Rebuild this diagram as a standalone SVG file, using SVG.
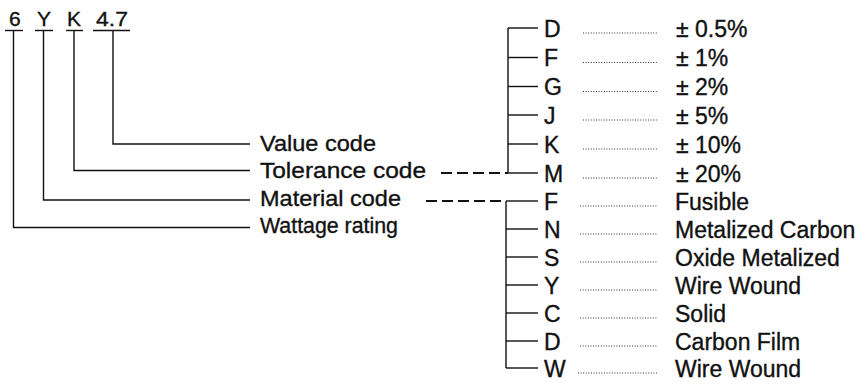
<svg xmlns="http://www.w3.org/2000/svg" width="868" height="386" viewBox="0 0 868 386">
<style>
  text { font-family: "Liberation Sans", Arial, sans-serif; fill: #111; stroke: #111; stroke-width: 0.35; }
  .code { font-size: 21px; }
  .lbl { font-size: 22.5px; }
  .let { font-size: 23px; }
  .val { font-size: 23px; }
  .ln { stroke: #111; stroke-width: 1.4; fill: none; }
  .dash { stroke: #111; stroke-width: 1.8; fill: none; stroke-dasharray: 11 5; }
  .dot { stroke: #333; stroke-width: 1; fill: none; stroke-dasharray: 1 1.6; }
</style>
<rect width="868" height="386" fill="#fff"/>

<g id="codes">
  <g id="code-6"><text class="code" x="9" y="26">6</text><line class="ln" x1="5" y1="30.5" x2="23" y2="30.5"/></g>
  <g id="code-Y"><text class="code" x="37" y="26">Y</text><line class="ln" x1="35" y1="30.5" x2="53" y2="30.5"/></g>
  <g id="code-K"><text class="code" x="67" y="26">K</text><line class="ln" x1="66" y1="30.5" x2="83" y2="30.5"/></g>
  <g id="code-47"><text class="code" x="96" y="26" textLength="32" lengthAdjust="spacingAndGlyphs">4.7</text><line class="ln" x1="93" y1="30.5" x2="130" y2="30.5"/></g>
</g>

<g id="labels">
  <g id="value-code"><text class="lbl" x="260" y="151" textLength="116" lengthAdjust="spacingAndGlyphs">Value code</text></g>
  <g id="tolerance-code"><text class="lbl" x="260" y="178" textLength="166" lengthAdjust="spacingAndGlyphs">Tolerance code</text></g>
  <g id="material-code"><text class="lbl" x="260" y="206" textLength="141" lengthAdjust="spacingAndGlyphs">Material code</text></g>
  <g id="wattage-rating"><text class="lbl" x="260" y="233" textLength="138" lengthAdjust="spacingAndGlyphs">Wattage rating</text></g>
</g>

<g id="connectors">
  <polyline class="ln" points="113,30.5 113,144 250,144"/>
  <polyline class="ln" points="74,30.5 74,170.5 250,170.5"/>
  <polyline class="ln" points="43.5,30.5 43.5,200 250,200"/>
  <polyline class="ln" points="13.5,30.5 13.5,227.5 250,227.5"/>
  <line class="dash" x1="441" y1="173" x2="508" y2="173"/>
  <line class="dash" x1="426" y1="201" x2="506" y2="201"/>
  <line class="ln" x1="508" y1="28" x2="508" y2="173"/>
  <line class="ln" x1="506" y1="201" x2="506" y2="368"/>
  <line class="ln" x1="508" y1="28" x2="538" y2="28"/>
  <line class="ln" x1="508" y1="57.5" x2="538" y2="57.5"/>
  <line class="ln" x1="508" y1="86.5" x2="538" y2="86.5"/>
  <line class="ln" x1="508" y1="115" x2="538" y2="115"/>
  <line class="ln" x1="508" y1="144" x2="538" y2="144"/>
  <line class="ln" x1="506" y1="173" x2="538" y2="173"/>
  <line class="ln" x1="506" y1="201" x2="538" y2="201"/>
  <line class="ln" x1="506" y1="229" x2="538" y2="229"/>
  <line class="ln" x1="506" y1="257" x2="538" y2="257"/>
  <line class="ln" x1="506" y1="285" x2="538" y2="285"/>
  <line class="ln" x1="506" y1="313" x2="538" y2="313"/>
  <line class="ln" x1="506" y1="341" x2="538" y2="341"/>
  <line class="ln" x1="506" y1="368" x2="538" y2="368"/>
</g>

<g id="tolerance-table">
  <g id="tol-D"><text class="let" x="544" y="36.5">D</text><line class="dot" x1="583" y1="33" x2="658" y2="33"/><text class="val" x="676" y="36.5">± 0.5%</text></g>
  <g id="tol-F"><text class="let" x="544" y="66">F</text><line class="dot" x1="583" y1="62.5" x2="658" y2="62.5"/><text class="val" x="676" y="66">± 1%</text></g>
  <g id="tol-G"><text class="let" x="544" y="95">G</text><line class="dot" x1="583" y1="91.5" x2="658" y2="91.5"/><text class="val" x="676" y="95">± 2%</text></g>
  <g id="tol-J"><text class="let" x="544" y="123.5">J</text><line class="dot" x1="583" y1="120" x2="658" y2="120"/><text class="val" x="676" y="123.5">± 5%</text></g>
  <g id="tol-K"><text class="let" x="544" y="152.5">K</text><line class="dot" x1="583" y1="149" x2="658" y2="149"/><text class="val" x="676" y="152.5">± 10%</text></g>
  <g id="tol-M"><text class="let" x="544" y="181.5">M</text><line class="dot" x1="583" y1="178" x2="658" y2="178"/><text class="val" x="676" y="181.5">± 20%</text></g>
</g>

<g id="material-table">
  <g id="mat-F"><text class="let" x="544" y="209.5">F</text><line class="dot" x1="580" y1="206" x2="658" y2="206"/><text class="val" x="675" y="209.5">Fusible</text></g>
  <g id="mat-N"><text class="let" x="544" y="237.5">N</text><line class="dot" x1="580" y1="234" x2="658" y2="234"/><text class="val" x="675" y="237.5">Metalized Carbon</text></g>
  <g id="mat-S"><text class="let" x="544" y="265.5">S</text><line class="dot" x1="580" y1="262" x2="658" y2="262"/><text class="val" x="675" y="265.5">Oxide Metalized</text></g>
  <g id="mat-Y"><text class="let" x="544" y="293.5">Y</text><line class="dot" x1="580" y1="290" x2="658" y2="290"/><text class="val" x="675" y="293.5">Wire Wound</text></g>
  <g id="mat-C"><text class="let" x="544" y="321.5">C</text><line class="dot" x1="580" y1="318" x2="658" y2="318"/><text class="val" x="675" y="321.5">Solid</text></g>
  <g id="mat-D"><text class="let" x="544" y="349.5">D</text><line class="dot" x1="580" y1="346" x2="658" y2="346"/><text class="val" x="675" y="349.5">Carbon Film</text></g>
  <g id="mat-W"><text class="let" x="544" y="376.5">W</text><line class="dot" x1="578" y1="373" x2="658" y2="373"/><text class="val" x="675" y="376.5">Wire Wound</text></g>
</g>
</svg>
